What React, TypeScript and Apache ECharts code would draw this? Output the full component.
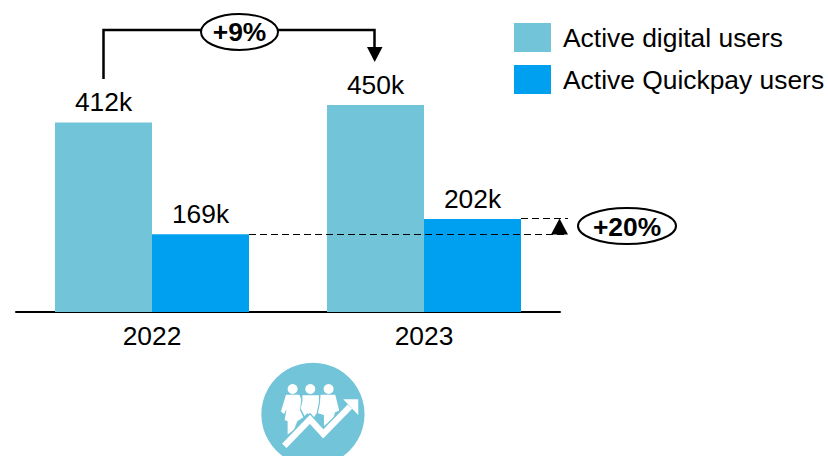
import React, { useEffect, useRef } from "react";
import * as echarts from "echarts";

const years = ["2022", "2023"];
const digitalUsers = [412, 450];
const quickpayUsers = [169, 202];
const digitalName = "Active digital users";
const quickpayName = "Active Quickpay users";
const growthDigital = "+9%";
const growthQuickpay = "+20%";
const FONT = "'Liberation Sans', Arial, sans-serif";
const TEAL = "#72C4D9";
const BLUE = "#00A0F0";
const Z = 20;

const poly = (points: number[][], fill: string) => ({ type: "polygon", z: Z, shape: { points }, style: { fill } });

function iconGroup() {
  const white = "#fff";
  const head = (cx: number) => ({ type: "circle", z: Z, shape: { cx, cy: 87, r: 15 }, style: { fill: white } });
  const arrow = [[103, 258], [180, 178], [220, 222], [300, 140]];
  return {
    type: "group",
    x: 250,
    y: 360,
    scaleX: 1 / 3,
    scaleY: 1 / 3,
    children: [
      { type: "circle", z: Z, shape: { cx: 189, cy: 163, r: 155 }, style: { fill: TEAL } },
      head(128),
      head(181),
      head(236),
      poly([[108, 104], [148, 104], [154, 118], [150, 150], [160, 172], [142, 184], [132, 210], [113, 224], [113, 184], [104, 180], [110, 148], [102, 162], [93, 155]], white),
      poly([[157, 106], [207, 106], [207, 128], [200, 160], [192, 172], [172, 160], [164, 168], [152, 146], [158, 120]], white),
      poly([[212, 104], [256, 104], [268, 152], [255, 158], [250, 178], [222, 198], [222, 165], [204, 160], [210, 130]], white),
      { type: "polyline", z: Z, shape: { points: arrow }, style: { stroke: TEAL, lineWidth: 27, fill: "none" } },
      { type: "polyline", z: Z, shape: { points: arrow }, style: { stroke: white, lineWidth: 19, fill: "none" } },
      poly([[280, 118], [325, 118], [325, 165]], white),
    ],
  };
}

export default function App() {
  const ref = useRef<HTMLDivElement>(null);
  useEffect(() => {
    document.body.style.margin = "0";
    const chart = echarts.init(ref.current!, null, { renderer: "svg" });
    const label = {
      show: true,
      position: "top" as const,
      distance: 7,
      color: "#000",
      fontSize: 26.4,
      fontFamily: FONT,
      formatter: (p: any) => `${p.value}k`,
    };
    chart.setOption({
      animation: false,
      backgroundColor: "#fff",
      legend: {
        left: 509,
        top: 18,
        orient: "vertical",
        itemWidth: 37,
        itemHeight: 29,
        itemGap: 13,
        icon: "rect",
        textStyle: { fontSize: 26.4, fontFamily: FONT, color: "#000", padding: [0, 0, 0, 7] },
        data: [digitalName, quickpayName],
      },
      grid: { left: 16, top: 82, width: 544, height: 230 },
      xAxis: {
        type: "category",
        data: years,
        axisLine: { lineStyle: { color: "#000", width: 2 } },
        axisTick: { show: false },
        axisLabel: { color: "#000", fontSize: 26.4, fontFamily: FONT, margin: 11 },
      },
      yAxis: { type: "value", min: 0, max: 500, show: false },
      series: [
        { name: digitalName, type: "bar", data: digitalUsers, barWidth: 97, barGap: 0, itemStyle: { color: TEAL }, label },
        { name: quickpayName, type: "bar", data: quickpayUsers, barWidth: 97, itemStyle: { color: BLUE }, label },
      ],
    });

    const y0 = Math.round(chart.convertToPixel({ yAxisIndex: 0 }, quickpayUsers[0]) as number) + 0.5;
    const y1 = Math.round(chart.convertToPixel({ yAxisIndex: 0 }, quickpayUsers[1]) as number) - 0.5;
    const dash = { stroke: "#000", lineWidth: 1, lineDash: [7, 4] };
    const black = { stroke: "#000", lineWidth: 2.5, fill: "none" };
    chart.setOption({
      graphic: [
        { type: "polyline", z: Z, shape: { points: [[103.5, 79], [103.5, 30], [374.5, 30], [374.5, 50]] }, style: black },
        poly([[367, 47], [382.5, 47], [374.7, 62]], "#000"),
        { type: "ellipse", z: Z, shape: { cx: 239.5, cy: 32, rx: 38.5, ry: 18 }, style: { fill: "#fff", stroke: "#000", lineWidth: 2 } },
        { type: "text", z: Z + 1, x: 239.5, y: 32, style: { text: growthDigital, font: `bold 26.4px ${FONT}`, fill: "#000", align: "center", verticalAlign: "middle" } },
        { type: "line", z: Z, shape: { x1: 521, y1, x2: 568, y2: y1 }, style: dash },
        { type: "line", z: Z, shape: { x1: 249, y1: y0, x2: 568, y2: y0 }, style: dash },
        poly([[551, y0], [568, y0], [559.5, y1]], "#000"),
        { type: "ellipse", z: Z, shape: { cx: 627, cy: 226, rx: 49, ry: 18 }, style: { fill: "#fff", stroke: "#000", lineWidth: 2 } },
        { type: "text", z: Z + 1, x: 627, y: 227, style: { text: growthQuickpay, font: `bold 26.4px ${FONT}`, fill: "#000", align: "center", verticalAlign: "middle" } },
        iconGroup(),
      ],
    });
    return () => chart.dispose();
  }, []);
  return <div ref={ref} style={{ width: 828, height: 456 }} />;
}
